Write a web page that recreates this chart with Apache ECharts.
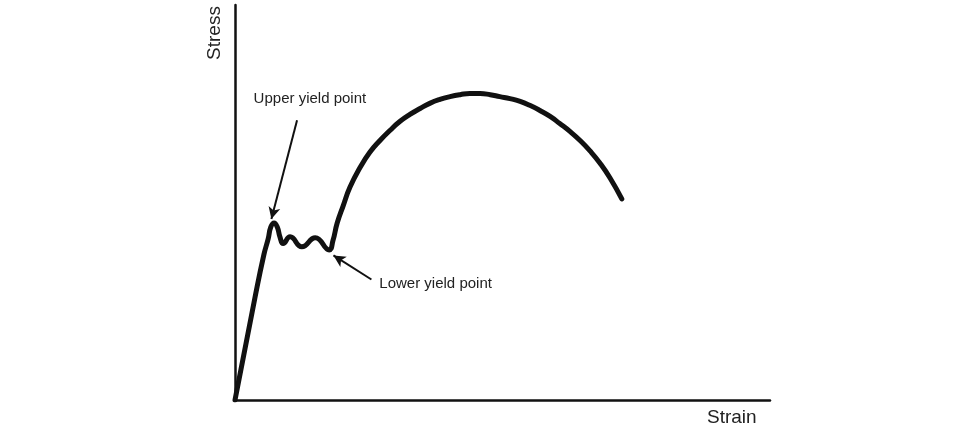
<!DOCTYPE html>
<html>
<head>
<meta charset="utf-8">
<script src="https://cdn.jsdelivr.net/npm/echarts@6/dist/echarts.min.js"></script>
<style>
  html, body { margin: 0; padding: 0; background: #fff; }
  #main { width: 973px; height: 427px; }
</style>
</head>
<body>
<div id="main"></div>
<script>
// stress-strain curve, arbitrary units (0..100 on both axes)
var strain = [0, 3.7, 5.4, 6.2, 6.7, 7.3, 7.9, 8.4, 9.0, 10.3, 12.5, 15.0, 17.6, 18.3, 19.1,
              20.2, 21.5, 23.4, 25.2, 27.1, 29.0, 30.8, 32.7, 34.6, 36.4, 38.3, 40.2, 42.1, 43.9,
              45.8, 47.7, 49.5, 51.4, 53.3, 55.1, 57.0, 58.9, 60.7, 62.6, 64.5, 66.4, 68.2, 70.1, 72.3];
var stress = [0, 25.7, 36.8, 40.8, 43.8, 44.8, 43.8, 41.3, 39.6, 41.3, 38.8, 41.1, 38.0, 40.3, 44.8,
              49.1, 53.9, 58.9, 62.7, 65.7, 68.3, 70.5, 72.3, 73.8, 75.1, 76.1, 76.8, 77.3, 77.6,
              77.6, 77.3, 76.8, 76.3, 75.6, 74.6, 73.3, 71.8, 70.0, 68.0, 65.7, 63.0, 60.0, 56.2, 50.9];

// annotations
var annoLabels = ['Upper yield point', 'Lower yield point'];
var annoLabelPos = [[14.0, 76.3], [37.5, 29.5]];
var arrowFrom = [[11.6, 70.8], [25.5, 30.5]];
var arrowTo = [[6.8, 45.8], [18.4, 36.6]];

var curve = strain.map(function (x, i) { return [x, stress[i]]; });

var arrows = arrowFrom.map(function (p, i) {
    return [{ coord: p }, { coord: arrowTo[i] }];
});
var labels = annoLabels.map(function (t, i) {
    return { coord: annoLabelPos[i], value: t };
});

var font = "'Liberation Sans', Arial, sans-serif";
var chart = echarts.init(document.getElementById('main'));

chart.setOption({
    animation: false,
    backgroundColor: '#fff',
    grid: { left: 235, right: 203, top: 5, bottom: 25, containLabel: false },
    xAxis: {
        type: 'value', min: 0, max: 100,
        name: 'Strain', nameLocation: 'end', nameGap: -63,
        nameTextStyle: { fontFamily: font, fontSize: 19, color: '#222', verticalAlign: 'top', padding: [8, 0, 0, 0] },
        axisLine: { lineStyle: { color: '#111', width: 2.5 } },
        axisTick: { show: false }, axisLabel: { show: false }, splitLine: { show: false }
    },
    yAxis: {
        type: 'value', min: 0, max: 100,
        axisLine: { show: true, lineStyle: { color: '#111', width: 2.5 } },
        axisTick: { show: false }, axisLabel: { show: false }, splitLine: { show: false }
    },
    graphic: [{
        type: 'text', x: 215, y: 33, rotation: Math.PI / 2,
        style: { text: 'Stress', font: '19px ' + font, fill: '#222', align: 'center', verticalAlign: 'middle' }
    }],
    series: [{
        type: 'line',
        data: curve,
        smooth: 0.5,
        showSymbol: false,
        lineStyle: { color: '#111', width: 5, cap: 'round', join: 'round' },
        markLine: {
            silent: true,
            symbol: ['none', 'arrow'],
            symbolSize: [9, 12],
            label: { show: false },
            lineStyle: { color: '#111', width: 2, type: 'solid' },
            data: arrows
        },
        markPoint: {
            silent: true,
            symbol: 'circle',
            symbolSize: 0,
            label: {
                show: true, position: 'inside', formatter: '{c}',
                fontFamily: font, fontSize: 15, color: '#222'
            },
            data: labels
        }
    }]
});
</script>
</body>
</html>
